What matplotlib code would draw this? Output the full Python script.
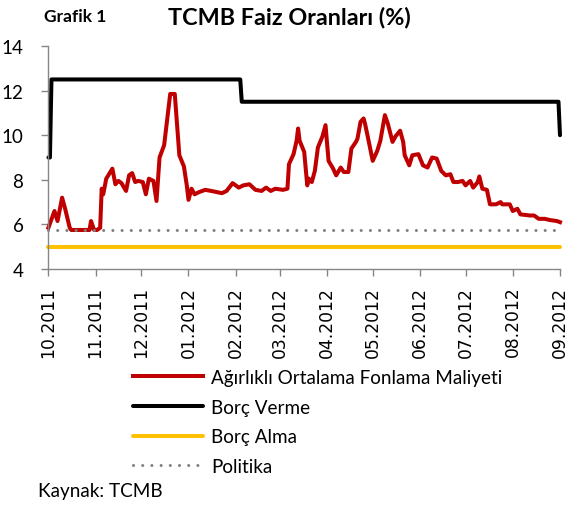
import matplotlib
matplotlib.use('Agg')
import matplotlib.pyplot as plt
import pandas as pd

plt.rcParams['font.family'] = ['Lato', 'DejaVu Sans']

# Ağırlıklı ortalama fonlama maliyeti (%)
wacf_dates = [
    '2011-10-18', '2011-10-22', '2011-10-24', '2011-10-27', '2011-10-29', '2011-11-01',
    '2011-11-02', '2011-11-14', '2011-11-15', '2011-11-17', '2011-11-19', '2011-11-21',
    '2011-11-22', '2011-11-23', '2011-11-25', '2011-11-29', '2011-12-01', '2011-12-03',
    '2011-12-05', '2011-12-08', '2011-12-10', '2011-12-12', '2011-12-14', '2011-12-16',
    '2011-12-19', '2011-12-21', '2011-12-23', '2011-12-26', '2011-12-28', '2011-12-30',
    '2012-01-02', '2012-01-06', '2012-01-09', '2012-01-12', '2012-01-15', '2012-01-17',
    '2012-01-18', '2012-01-20', '2012-01-22', '2012-01-25', '2012-01-29', '2012-02-02',
    '2012-02-09', '2012-02-12', '2012-02-16', '2012-02-20', '2012-02-23', '2012-02-27',
    '2012-03-02', '2012-03-06', '2012-03-09', '2012-03-12', '2012-03-15', '2012-03-20',
    '2012-03-23', '2012-03-24', '2012-03-27', '2012-03-29', '2012-03-30', '2012-03-31',
    '2012-04-03', '2012-04-05', '2012-04-06', '2012-04-08', '2012-04-10', '2012-04-12',
    '2012-04-15', '2012-04-17', '2012-04-19', '2012-04-22', '2012-04-24', '2012-04-27',
    '2012-04-29', '2012-05-02', '2012-05-04', '2012-05-07', '2012-05-08', '2012-05-10',
    '2012-05-12', '2012-05-13', '2012-05-15', '2012-05-18', '2012-05-21', '2012-05-23',
    '2012-05-26', '2012-05-28', '2012-05-31', '2012-06-02', '2012-06-05', '2012-06-07',
    '2012-06-08', '2012-06-11', '2012-06-13', '2012-06-17', '2012-06-20', '2012-06-23',
    '2012-06-26', '2012-06-29', '2012-07-02', '2012-07-05', '2012-07-08', '2012-07-10',
    '2012-07-13', '2012-07-16', '2012-07-18', '2012-07-21', '2012-07-23', '2012-07-26',
    '2012-07-27', '2012-07-29', '2012-08-01', '2012-08-03', '2012-08-07', '2012-08-10',
    '2012-08-11', '2012-08-16', '2012-08-18', '2012-08-21', '2012-08-23', '2012-08-29',
    '2012-09-01', '2012-09-04', '2012-09-08', '2012-09-11', '2012-09-16', '2012-09-18',
]
wacf = [
    5.85, 6.6, 6.15, 7.2, 6.7, 5.85,
    5.75, 5.75, 6.15, 5.75, 5.75, 5.85,
    7.6, 7.35, 8.05, 8.5, 7.8, 7.95,
    7.85, 7.5, 8.2, 8.3, 7.9, 7.95,
    7.9, 7.35, 8.05, 7.95, 7.05, 9.0,
    9.55, 11.85, 11.85, 9.1, 8.6, 7.7,
    7.1, 7.6, 7.35, 7.45, 7.55, 7.5,
    7.4, 7.5, 7.85, 7.65, 7.75, 7.8,
    7.55, 7.5, 7.65, 7.5, 7.6, 7.55,
    7.6, 8.7, 9.15, 9.75, 10.3, 9.75,
    9.25, 7.75, 8.05, 7.9, 8.4, 9.45,
    9.95, 10.45, 8.85, 8.5, 8.2, 8.55,
    8.35, 8.35, 9.4, 9.7, 9.85, 10.6,
    10.75, 10.5, 9.85, 8.85, 9.3, 9.75,
    10.9, 10.5, 9.7, 9.95, 10.2, 9.7,
    9.1, 8.65, 9.1, 9.15, 8.65, 8.55,
    9.0, 8.95, 8.4, 8.2, 8.25, 7.9,
    7.9, 7.95, 7.75, 7.95, 7.65, 7.9,
    8.15, 7.6, 7.55, 6.9, 6.9, 7.0,
    6.9, 6.9, 6.6, 6.7, 6.45, 6.4,
    6.4, 6.25, 6.25, 6.2, 6.15, 6.1,
]

# Borç verme (lending) rate
lending_dates = ['2011-10-18', '2011-10-19', '2011-10-20', '2012-02-21',
                 '2012-02-22', '2012-09-17', '2012-09-18']
lending = [9, 9, 12.5, 12.5, 11.5, 11.5, 10]

# Borç alma (borrowing) and politika (policy) rates
flat_dates = ['2011-10-18', '2012-09-18']
borrowing = [5.0, 5.0]
policy = [5.75, 5.75]

tick_dates = ['2011-10-18', '2011-11-18', '2011-12-18', '2012-01-18', '2012-02-18',
              '2012-03-18', '2012-04-18', '2012-05-18', '2012-06-18', '2012-07-18',
              '2012-08-18', '2012-09-18']
tick_labels = ['10.2011', '11.2011', '12.2011', '01.2012', '02.2012', '03.2012',
               '04.2012', '05.2012', '06.2012', '07.2012', '08.2012', '09.2012']

W, H = 570, 506
fig = plt.figure(figsize=(W / 100, H / 100), dpi=100)
ax = fig.add_axes([48.4 / W, 1 - 270 / H, (560 - 48.4) / W, (270 - 47) / H])

l1, = ax.plot(pd.to_datetime(wacf_dates), wacf, color='#C00000', lw=2.9,
              solid_joinstyle='round', clip_on=False,
              label='Ağırlıklı Ortalama Fonlama Maliyeti')
l2, = ax.plot(pd.to_datetime(lending_dates), lending, color='black', lw=2.9,
              solid_joinstyle='round', solid_capstyle='round', clip_on=False, label='Borç Verme')
l3, = ax.plot(pd.to_datetime(flat_dates), borrowing, color='#FFC000', lw=2.9,
              solid_capstyle='round', clip_on=False, label='Borç Alma')
l4, = ax.plot(pd.to_datetime(flat_dates), policy, color='#808080', lw=2.2,
              dashes=[0.01, 3.0], dash_capstyle='round', clip_on=False, label='Politika')

ax.set_xlim(pd.Timestamp(tick_dates[0]), pd.Timestamp(tick_dates[-1]))
ax.set_ylim(4, 14)
ax.set_yticks([4, 6, 8, 10, 12, 14])
ax.set_xticks(pd.to_datetime(tick_dates))
ax.set_xticklabels(tick_labels, rotation=90, family='DejaVu Sans', fontsize=12.3)

for s in ['top', 'right']:
    ax.spines[s].set_visible(False)
for s in ['left', 'bottom']:
    ax.spines[s].set_color('#868686')
    ax.spines[s].set_linewidth(1)
ax.tick_params(axis='both', direction='out', length=5, width=1, color='#868686')
ax.tick_params(axis='y', labelsize=13.5, pad=13)
ax.tick_params(axis='x', pad=7)

fig.text(44 / W, 1 - 17 / H, 'Grafik 1', fontsize=12.5, fontweight='bold', va='center')
fig.text(289 / W, 1 - 17 / H, 'TCMB Faiz Oranları (%)', fontsize=16.8, fontweight='bold',
         ha='center', va='center')

fig.legend(handles=[l1, l2, l3, l4], loc='upper left',
           bbox_to_anchor=(133 / W, 1 - 370 / H), frameon=False, fontsize=13.6,
           handlelength=3.7, handletextpad=0.45, labelspacing=0.67,
           borderpad=0, borderaxespad=0)

fig.text(38 / W, 1 - 492 / H, 'Kaynak: TCMB', fontsize=13.6, va='center')

fig.savefig('out.png', dpi=100)
